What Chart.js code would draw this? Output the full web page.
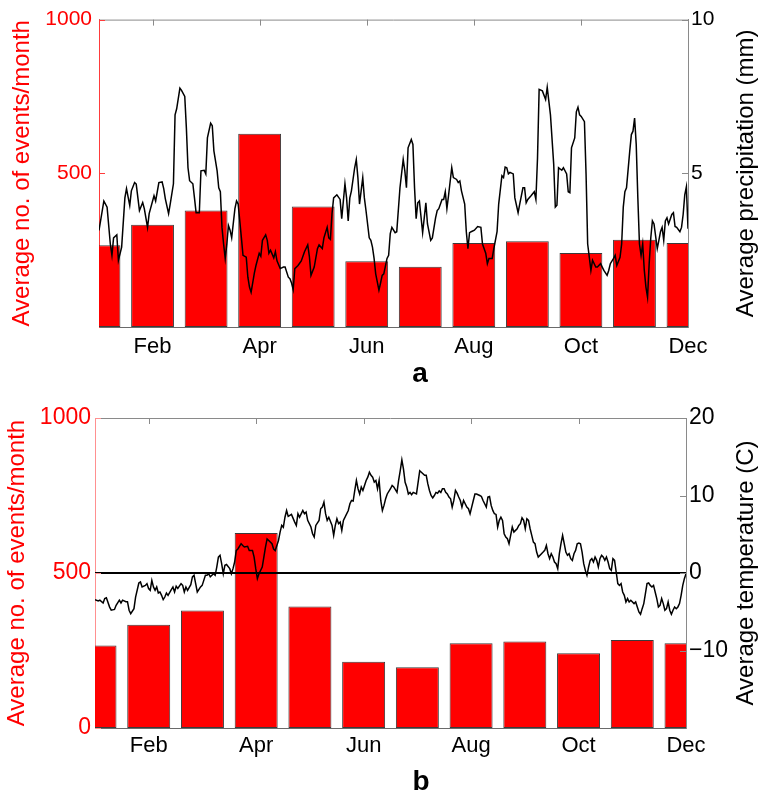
<!DOCTYPE html>
<html><head><meta charset="utf-8">
<script src="https://cdn.jsdelivr.net/npm/chart.js@4/dist/chart.umd.min.js"></script>
<style>
html,body{margin:0;padding:0;background:#fff;}
#wrap{position:relative;width:770px;height:795px;overflow:hidden;}
canvas{position:absolute;left:0;}
#c1{top:0;}
#c2{top:397px;}
</style></head><body>
<div id="wrap"><canvas id="c1" width="770" height="397"></canvas><canvas id="c2" width="770" height="398"></canvas></div>
<script>
// ---------- data ----------
const months = [1,2,3,4,5,6,7,8,9,10,11,12];
const eventCounts = [266, 333, 379, 629, 392, 214, 196, 273, 279, 241, 284, 273];
const tickMonths = [2,4,6,8,10,12];
const tickMonthLabels = ['Feb','Apr','Jun','Aug','Oct','Dec'];
const eventTicksA = [500, 1000];
const eventTicksB = [0, 500, 1000];
const precipTicks = [5, 10];
const tempTicks = [-10, 0, 10, 20];
const freezingLine = [0, 0];

const precipDay = [1,4,6,8,9,10,12,13,15,17,18,20,21,23,24,26,28,29,31,32,35,36,38,40,41,42,44,45,47,48,49,51,52,54,55,56,57,59,60,61,63,64,66,67,68,70,71,72,74,75,76,77,78,79,80,81,82,83,85,86,87,89,90,92,93,94,95,97,98,100,101,102,104,105,106,107,109,110,111,113,115,116,118,119,120,121,122,124,126,128,130,131,132,134,136,137,139,140,142,143,144,145,146,148,150,151,153,154,155,156,157,159,160,161,162,163,164,165,166,168,169,170,171,172,174,175,176,177,179,180,181,182,184,185,187,189,190,191,192,194,195,196,197,198,199,201,202,203,204,206,207,209,210,211,213,214,215,216,217,219,220,222,223,224,225,227,228,229,230,231,233,235,237,238,240,241,242,244,245,247,248,250,251,252,253,254,255,257,258,260,261,263,264,265,266,268,270,271,272,273,275,277,278,279,280,282,283,284,285,287,288,290,291,292,293,295,296,297,298,299,301,302,303,305,306,308,309,311,312,313,315,316,317,319,320,321,323,324,325,326,327,329,330,331,332,333,334,335,336,337,338,339,340,341,342,343,344,346,347,348,349,350,351,352,353,355,356,357,358,360,361,362,363,364,365];
const precipMm = [3.14,4.1,3.9,2.7,2.33,2.9,3.0,2.17,2.6,4.2,4.5,3.95,4.43,4.7,4.65,3.79,4.05,3.85,3.24,3.69,4.27,4.1,4.7,4.72,4.5,4.17,3.69,4.0,4.66,6.9,7.1,7.77,7.7,7.5,6.47,5.18,4.76,4.66,4.2,3.72,3.72,5.08,5.1,4.98,6.15,6.63,6.55,5.73,5.08,4.53,4.4,3.24,2.7,2.23,2.7,3.3,3.15,2.9,3.85,4.1,4.0,2.9,2.33,2.27,1.62,1.3,1.13,1.75,2.0,2.4,2.3,2.82,3.0,2.82,2.4,2.5,2.25,2.45,2.15,1.9,1.95,1.95,1.62,1.57,1.43,1.22,1.9,2.0,2.15,2.45,2.67,2.3,1.68,1.95,2.55,2.67,2.55,2.9,3.24,2.9,2.85,3.69,4.2,4.3,4.15,3.52,4.66,4.2,3.45,4.2,4.43,5.18,5.45,4.86,4.0,4.43,4.86,4.2,3.79,2.9,2.82,2.6,2.23,1.73,1.2,1.43,1.68,1.73,2.23,2.33,3.04,3.24,3.07,3.1,4.53,5.45,5.08,4.53,5.83,6.1,5.94,4.53,3.52,4.04,4.1,3.07,3.55,4.04,3.35,2.82,2.9,3.55,3.79,3.85,4.15,4.15,4.4,3.85,4.27,5.18,4.86,4.8,4.7,4.75,4.43,4.0,3.1,2.55,3.07,3.1,3.15,3.27,3.24,2.7,2.4,2.06,2.23,2.23,2.55,3.1,4.0,4.92,4.86,5.2,5.18,4.98,5.03,4.98,4.2,3.72,4.0,4.53,4.53,4.04,4.15,4.27,4.4,4.15,5.5,7.73,7.68,7.4,7.8,7.35,6.9,5.3,3.9,3.96,5.18,5.1,5.18,4.98,4.4,4.37,5.83,6.15,7.0,7.15,6.9,6.85,6.68,4.98,2.7,1.84,2.17,1.95,1.95,2.06,1.95,1.84,1.68,1.84,2.06,2.23,2.33,2.0,2.27,2.7,3.9,4.4,4.53,5.72,6.26,6.37,6.8,5.94,4.2,2.7,2.33,2.7,1.84,1.3,0.97,2.06,2.9,3.45,3.35,2.55,2.82,3.1,3.24,2.82,3.45,3.55,3.35,3.66,3.72,3.27,3.24,3.1,3.24,3.66,4.3,4.56,3.2];

const tempDay = [1,3,4,6,7,8,10,11,13,14,16,17,18,20,21,22,23,25,26,28,29,30,32,33,34,35,36,37,38,39,40,41,42,43,44,45,46,48,49,50,51,52,54,55,56,57,58,60,61,62,63,64,66,67,68,69,70,71,72,74,75,76,77,78,79,80,81,82,84,85,86,87,88,89,91,92,93,95,96,98,99,100,101,102,104,105,106,107,108,110,111,112,114,115,116,117,118,119,120,121,122,124,125,126,127,129,130,131,132,134,135,136,137,139,140,141,142,143,144,145,147,148,149,150,151,152,153,154,155,157,158,159,160,161,162,163,164,165,166,167,168,169,170,171,172,173,174,175,176,177,178,179,180,181,183,184,185,187,188,189,190,191,192,193,194,195,196,197,199,200,201,202,203,204,205,206,207,208,209,210,211,212,213,214,215,216,217,218,219,220,221,222,223,224,225,226,227,228,229,230,231,232,233,234,235,236,238,239,240,241,242,243,244,245,246,247,248,249,250,251,252,253,254,255,256,257,258,259,260,261,262,263,264,265,266,267,268,269,270,271,272,273,274,276,277,278,279,280,281,282,283,284,285,286,287,288,289,290,291,292,293,294,295,296,297,298,299,300,301,302,303,304,305,306,307,308,309,310,311,312,313,314,315,316,317,318,319,320,321,322,323,324,325,326,327,328,329,330,331,333,334,335,336,337,338,339,340,341,342,343,344,345,346,347,348,349,350,351,352,353,354,355,356,357,358,359,360,361,362,363,364,365];
const tempC = [-3.44,-3.6,-3.5,-3.87,-3.3,-3.2,-4.4,-4.8,-4.7,-4.17,-3.5,-3.87,-3.5,-3.7,-3.7,-4.8,-5.24,-4.6,-3.1,-1.3,-1.16,-1.8,-1.6,-1.37,-2.0,-2.23,-0.95,-1.8,-2.23,-1.8,-2.58,-2.45,-2.88,-3.44,-3.1,-2.58,-2.88,-2.15,-1.8,-2.45,-1.7,-2.0,-1.37,-1.6,-2.45,-1.8,-2.23,-1.5,-0.5,-0.3,-1.37,-2.45,-1.8,-1.6,-0.95,-0.3,-0.3,-0.1,-0.5,-0.1,-0.3,0.77,2.06,2.28,1.2,-0.1,1.0,1.1,0.56,-0.1,0.56,1.42,2.9,3.1,3.78,3.56,3.35,3.44,2.9,2.9,2.06,0.56,-0.73,-0.1,0.77,2.06,3.35,4.4,4.2,3.78,3.1,2.9,4.2,5.28,6.14,5.9,7.2,8.07,7.3,7.43,7.56,6.57,6.14,7.65,7.2,8.07,7.65,7.86,6.79,5.93,5.07,4.64,6.14,6.79,8.29,8.5,9.15,7.65,6.79,7.2,6.14,4.85,6.14,7.0,6.36,6.57,5.5,6.79,7.2,8.07,8.93,9.36,9.28,10.65,11.94,10.87,10.2,11.1,10.65,11.3,11.94,12.37,13.0,12.6,12.37,11.73,11.94,10.87,11.94,9.36,8.07,8.72,9.58,10.2,10.87,11.3,11.1,10.4,11.94,13.2,14.6,13.4,11.7,11.1,10.2,10.4,10.1,10.4,10.2,11.7,13.2,13.0,12.8,12.6,12.6,11.5,10.65,10.0,9.7,10.0,10.4,10.3,10.6,10.4,10.87,10.87,10.4,10.2,9.8,9.58,8.5,9.36,10.65,10.3,9.8,9.36,8.5,9.36,8.93,8.5,8.29,7.65,8.5,9.36,10.2,10.2,10.0,9.88,9.36,8.93,8.5,9.8,9.88,8.72,8.07,7.65,7.56,5.93,6.79,7.2,6.79,5.07,4.64,4.42,3.78,4.85,5.93,5.28,5.5,5.71,6.14,6.36,7.13,6.79,5.71,7.0,6.79,5.71,4.85,3.99,3.78,2.7,2.06,2.49,2.7,2.92,3.56,2.49,1.85,2.49,2.06,1.42,1.2,0.56,2.49,3.78,4.85,3.78,2.7,2.28,2.49,1.85,1.63,2.49,2.92,3.78,3.87,3.78,2.7,1.2,0.34,-0.3,0.77,1.63,1.85,1.42,2.06,1.63,0.77,1.85,2.28,2.06,1.63,2.06,1.42,0.56,0.34,1.85,1.63,0.13,-1.37,-1.6,-1.37,-2.45,-2.88,-3.74,-3.3,-3.74,-3.52,-3.95,-3.74,-4.38,-5.03,-5.33,-4.6,-3.95,-2.66,-1.37,-1.29,-1.6,-1.8,-1.6,-2.45,-3.3,-4.38,-4.17,-3.3,-3.95,-4.8,-4.6,-3.74,-4.8,-5.33,-4.8,-4.38,-4.6,-4.38,-3.95,-2.88,-1.6,-0.73,-0.1];

// ---------- helpers ----------
const FONT = "'Liberation Sans', Arial, Helvetica, sans-serif";
const dayToMonthPos = d => 1 + 11 * (d - 1) / 364;
const minusFmt = v => (v < 0 ? '\u2212' + Math.abs(v) : String(v));

const panelDecor = {
  id: 'panelDecor',
  afterDatasetsDraw(chart, args, o) {
    const {ctx, chartArea: a, scales} = chart;
    ctx.save();
    ctx.lineWidth = 1;
    ctx.strokeStyle = '#8a8a8a';
    ctx.beginPath();
    ctx.moveTo(a.left, a.top + 0.5); ctx.lineTo(a.right, a.top + 0.5);
    ctx.stroke();
    ctx.beginPath();
    scales.x.ticks.forEach(t => {
      const px = Math.round(scales.x.getPixelForValue(t.value)) + 0.5;
      ctx.moveTo(px, a.top); ctx.lineTo(px, a.top + 6);
    });
    scales.y2.ticks.forEach(t => {
      const py = Math.round(scales.y2.getPixelForValue(t.value)) + 0.5;
      ctx.moveTo(a.right, py); ctx.lineTo(a.right - 6, py);
    });
    ctx.stroke();
    ctx.strokeStyle = o.leftColor;
    ctx.beginPath();
    scales.y.ticks.forEach(t => {
      const py = Math.round(scales.y.getPixelForValue(t.value)) + 0.5;
      ctx.moveTo(a.left, py); ctx.lineTo(a.left + 6, py);
    });
    ctx.stroke();
    ctx.restore();
  },
  afterDraw(chart, args, o) {
    const {ctx, chartArea: a} = chart;
    ctx.save();
    ctx.fillStyle = '#000';
    ctx.font = '24px ' + FONT;
    ctx.textAlign = 'center';
    ctx.textBaseline = 'middle';
    ctx.translate(o.rightTitleX, (a.top + a.bottom) / 2);
    ctx.rotate(-Math.PI / 2);
    ctx.fillText(o.rightTitle, 0, 0);
    ctx.restore();
    ctx.save();
    ctx.fillStyle = '#000';
    ctx.font = 'bold 28px ' + FONT;
    ctx.textAlign = 'center';
    ctx.textBaseline = 'alphabetic';
    ctx.fillText(o.letter, o.letterX, o.letterY);
    ctx.restore();
  }
};

function makePanel(canvasId, p) {
  const barPoints = months.map((m, i) => ({x: m, y: eventCounts[i]}));
  const linePoints = p.lineDay.map((d, i) => ({x: dayToMonthPos(d), y: p.lineVal[i]}));
  const datasets = [
    {type: 'bar', data: barPoints, xAxisID: 'x', yAxisID: 'y', backgroundColor: '#ff0000',
     borderColor: '#3a3a3a', borderWidth: 1, borderSkipped: false, barPercentage: 0.8, categoryPercentage: 1.0, clip: 0, order: 3},
    {type: 'line', data: linePoints, xAxisID: 'x', yAxisID: 'y2', borderColor: '#000', borderWidth: 1.5,
     pointRadius: 0, tension: 0, fill: false, order: 1}
  ];
  if (p.zeroLine) {
    datasets.push({type: 'line', data: [{x: months[0], y: freezingLine[0]}, {x: months[months.length - 1], y: freezingLine[1]}],
      xAxisID: 'x', yAxisID: 'y2', borderColor: '#000', borderWidth: 2, pointRadius: 0, order: 2});
  }
  return new Chart(document.getElementById(canvasId), {
    data: {datasets},
    options: {
      responsive: false, animation: false, devicePixelRatio: 1,
      layout: {padding: {top: p.padTop, left: 0, right: 0, bottom: 0}},
      plugins: {legend: {display: false}, tooltip: {enabled: false},
        panelDecor: {leftColor: p.leftColor, rightTitle: p.rightTitle, rightTitleX: 746,
          letter: p.letter, letterX: p.letterX, letterY: p.letterY}},
      scales: {
        x: {type: 'linear', position: 'bottom', min: 1, max: 12, offset: false,
          grid: {display: false, drawTicks: false, offset: false}, border: {display: true, color: '#6a6a6a'},
          afterBuildTicks: s => { s.ticks = tickMonths.map(v => ({value: v})); },
          afterFit: s => { s.height = p.xHeight; },
          ticks: {autoSkip: false, maxRotation: 0, padding: p.xPad, color: '#000',
            font: {family: FONT, size: p.xFont},
            callback: v => tickMonthLabels[tickMonths.indexOf(v)]}},
        y: {type: 'linear', position: 'left', min: 0, max: 1000,
          grid: {display: false, drawTicks: false}, border: {display: true, color: p.leftColor},
          afterBuildTicks: s => { s.ticks = p.leftTicks.map(v => ({value: v})); },
          afterFit: s => { s.width = p.leftWidth; },
          ticks: {padding: p.leftPad, color: '#ff0000', font: {family: FONT, size: p.leftFont}, callback: v => String(v)},
          title: {display: true, text: 'Average no. of events/month', color: '#ff0000',
            font: {family: FONT, size: 24}, padding: {top: p.leftTitlePad, bottom: 0}}},
        y2: {type: 'linear', position: 'right', min: p.rightMin, max: p.rightMax,
          grid: {display: false, drawTicks: false}, border: {display: true, color: '#8a8a8a'},
          afterBuildTicks: s => { s.ticks = p.rightTicks.map(v => ({value: v})); },
          afterFit: s => { s.width = p.rightWidth; },
          ticks: {padding: 3, color: '#000', font: {family: FONT, size: p.rightFont}, callback: minusFmt}}
      }
    },
    plugins: [panelDecor]
  });
}

makePanel('c1', {
  lineDay: precipDay, lineVal: precipMm, zeroLine: false,
  padTop: 18, xHeight: 70, leftWidth: 99, rightWidth: 82,
  xPad: 7, xFont: 22, leftPad: 7, leftFont: 21, rightFont: 21, leftTitlePad: 8,
  leftTicks: eventTicksA, rightTicks: precipTicks, rightMin: 0, rightMax: 10,
  leftColor: '#ff3b3b', rightTitle: 'Average precipitation (mm)',
  letter: 'a', letterX: 420, letterY: 382
});
makePanel('c2', {
  lineDay: tempDay, lineVal: tempC, zeroLine: true,
  padTop: 21, xHeight: 67, leftWidth: 95, rightWidth: 84,
  xPad: 5, xFont: 22, leftPad: 4, leftFont: 23, rightFont: 23, leftTitlePad: 3,
  leftTicks: eventTicksB, rightTicks: tempTicks, rightMin: -20, rightMax: 20,
  leftColor: '#ff9090', rightTitle: 'Average temperature (C)',
  letter: 'b', letterX: 421, letterY: 393
});
</script>
</body></html>
